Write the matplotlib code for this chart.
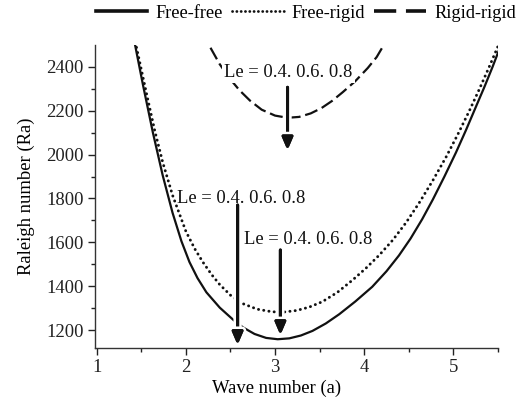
import matplotlib
matplotlib.use("Agg")
import matplotlib.pyplot as plt
from matplotlib.lines import Line2D
import matplotlib.patheffects as pe
import numpy as np

plt.rcParams['font.family'] = ['Liberation Serif', 'DejaVu Serif']
plt.rcParams['lines.scale_dashes'] = False

# Data
ff_a = [1.40, 1.43, 1.52, 1.63, 1.74, 1.85, 1.95, 2.04, 2.13, 2.23, 2.38, 2.53, 2.64, 2.77, 2.90, 3.03, 3.16,
        3.29, 3.42, 3.57, 3.72, 3.90, 4.09, 4.25, 4.39, 4.52, 4.65, 4.77, 4.90, 5.03, 5.14, 5.25, 5.35, 5.44, 5.52]
ff_ra = [2565, 2500, 2315, 2100, 1905, 1735, 1605, 1510, 1437, 1372, 1302, 1247, 1212, 1182, 1164, 1158, 1162,
         1175, 1196, 1230, 1272, 1330, 1397, 1468, 1540, 1617, 1705, 1795, 1900, 2010, 2110, 2215, 2310, 2400, 2485]

fr_a = [1.41, 1.44, 1.56, 1.65, 1.74, 1.85, 2.00, 2.10, 2.19, 2.29, 2.38, 2.51, 2.64, 2.80, 2.97, 3.10, 3.24,
        3.38, 3.53, 3.70, 3.87, 4.02, 4.17, 4.32, 4.47, 4.62, 4.77, 4.92, 5.05, 5.18, 5.29, 5.40, 5.52]
fr_ra = [2560, 2500, 2275, 2110, 1965, 1815, 1650, 1570, 1510, 1452, 1407, 1355, 1320, 1295, 1283, 1282, 1289,
         1304, 1329, 1372, 1428, 1482, 1542, 1610, 1690, 1782, 1882, 1990, 2092, 2200, 2297, 2398, 2512]

rr_a = [2.18, 2.25, 2.38, 2.49, 2.60, 2.72, 2.85, 3.00, 3.14, 3.27, 3.40, 3.52, 3.64, 3.76, 3.90, 4.04, 4.14, 4.22, 4.28]
rr_ra = [2560, 2506, 2412, 2348, 2294, 2246, 2205, 2178, 2168, 2172, 2188, 2212, 2245, 2285, 2335, 2395, 2445, 2500, 2545]

series_labels = ['Free-free', 'Free-rigid', 'Rigid-rigid']
x_ticks = [1, 2, 3, 4, 5]
y_ticks = [1200, 1400, 1600, 1800, 2000, 2200, 2400]

# annotation texts and arrow placements (data coords)
ann_text = 'Le = 0.4. 0.6. 0.8'
arrows = [  # (x, y_start, y_end)
    (3.14, 2307, 2020),
    (2.58, 1770, 1132),
    (3.06, 1565, 1177),
]
texts = [  # (x_left, y_center)
    (2.43, 2375),
    (1.90, 1800),
    (2.65, 1615),
]

fig = plt.figure(figsize=(5.23, 4.00), dpi=100)
ax = fig.add_axes([0.1816, 0.13, 0.7704, 0.7575])

lc = '#111111'
ax.plot(ff_a, ff_ra, color=lc, lw=1.6, solid_joinstyle='round')
ax.plot(fr_a, fr_ra, color=lc, lw=2.1, linestyle=(0, (0.1, 3.7)), dash_capstyle='round')
ax.plot(rr_a, rr_ra, color=lc, lw=1.6, linestyle=(0, (9.5, 3.5)))

for (xa, y0, y1) in arrows:
    an = ax.annotate('', xy=(xa, y1), xytext=(xa, y0),
                     arrowprops=dict(arrowstyle='-|>,head_length=0.75,head_width=0.32',
                                     lw=2.2, color=lc, mutation_scale=10,
                                     shrinkA=0, shrinkB=0))
    an.arrow_patch.set_path_effects([pe.withStroke(linewidth=6, foreground='white'), pe.Normal()])

for i, (xt, yt) in enumerate(texts):
    t = ax.text(xt, yt, ann_text, fontsize=13.4, va='center', ha='left', color='#111111', zorder=5)
    if i == 0:
        t.set_bbox(dict(facecolor='white', edgecolor='none', pad=1.5))

ax.set_xlim(0.98, 5.50)
ax.set_ylim(1118, 2500)
ax.set_xticks(x_ticks)
ax.set_yticks(y_ticks)
ax.set_xticks(np.arange(1.5, 5.6, 1.0), minor=True)
ax.set_yticks(np.arange(1300, 2500, 200), minor=True)
ax.tick_params(axis='both', which='major', direction='out', length=5, width=1.0,
               labelsize=13.4, colors='#222222', pad=3)
ax.tick_params(axis='both', which='minor', direction='out', length=3, width=1.0, colors='#222222')
for s in ['top', 'right']:
    ax.spines[s].set_visible(False)
for s in ['left', 'bottom']:
    ax.spines[s].set_color('#333333')
    ax.spines[s].set_linewidth(1.0)

ax.set_xlabel('Wave number (a)', fontsize=13.4)
ax.xaxis.set_label_coords(0.45, -0.105)
ax.set_ylabel('Raleigh number (Ra)', fontsize=13.4)
ax.yaxis.set_label_coords(-0.15, 0.5)

handles = [
    Line2D([], [], color=lc, lw=2.6),
    Line2D([], [], color=lc, lw=2.0, linestyle=(0, (0.1, 3.0)), dash_capstyle='round'),
    Line2D([], [], color=lc, lw=2.6, linestyle=(0, (16, 7))),
]
fig.legend(handles, series_labels, loc='center', bbox_to_anchor=(0.585, 0.967), ncol=3,
           frameon=False, fontsize=13.2, handlelength=2.8, handletextpad=0.45,
           columnspacing=0.5, borderaxespad=0, borderpad=0)

fig.savefig('out.png', dpi=100)
